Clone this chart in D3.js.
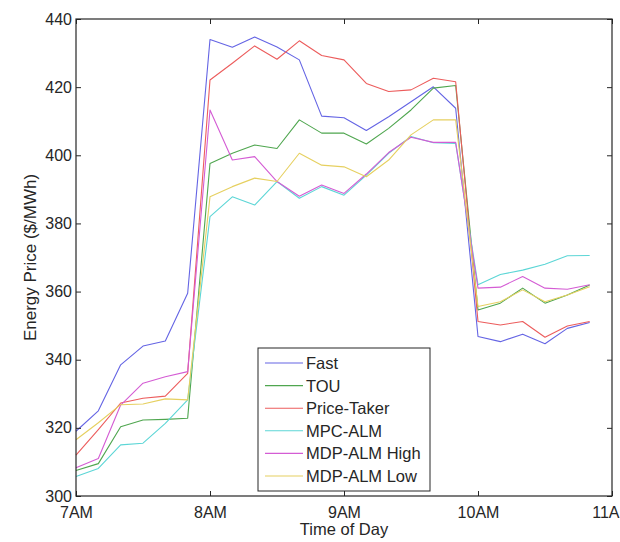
<!DOCTYPE html>
<html>
<head>
<meta charset="utf-8">
<script src="https://cdnjs.cloudflare.com/ajax/libs/d3/7.8.5/d3.min.js"></script>
<style>
  body { margin: 0; background: #fff; }
  svg { display: block; font-family: "Liberation Sans", Arial, sans-serif; }
</style>
</head>
<body>
<svg id="chart" width="620" height="542"></svg>
<script>
// sample times in hours, every 10 minutes from 7:00 to 10:50
const times = d3.range(24).map(i => 7 + i / 6);

const fast = [319, 325, 338.5, 344, 345.5, 359.5, 434, 431.7, 434.7, 431.8, 428, 411.5,
  411, 407.3, 411.3, 415.7, 420.1, 413.8, 346.8, 345.3, 347.5, 344.7, 349.2, 350.9];
const tou = [307.5, 309.5, 320.3, 322.3, 322.5, 322.8, 397.6, 400.6, 403, 402, 410.4, 406.5,
  406.5, 403.3, 407.9, 413.3, 419.7, 420.5, 354.6, 356.6, 361, 356.6, 359, 361.9];
const priceTaker = [312, 319.5, 327.3, 328.7, 329.3, 336, 422.1, 427, 432.1, 428.2, 433.6, 429.3,
  428, 421.1, 418.7, 419.2, 422.6, 421.6, 351.2, 350.2, 351.2, 346.6, 349.9, 351.2];
const mpcAlm = [305.7, 308.1, 315, 315.5, 321.3, 328.2, 382, 387.8, 385.4, 392.3, 387.4, 390.8,
  388.3, 394.2, 400.6, 405.5, 403.7, 403.5, 362, 365, 366.3, 368, 370.5, 370.6];
const mdpHigh = [308.3, 311, 326.7, 333.1, 335, 336.5, 413.3, 398.6, 399.6, 392.3, 388, 391.3,
  388.8, 394.5, 400.8, 405.3, 403.8, 403.8, 361, 361.3, 364.4, 361, 360.7, 362];
const mdpLow = [316.5, 321.5, 326.8, 327, 328.5, 328.2, 387.8, 390.8, 393.3, 392.3, 400.6, 397.1,
  396.6, 393.7, 398.6, 406, 410.4, 410.4, 355.6, 357, 360.5, 357, 359, 361.4];

const seriesNames = ['Fast', 'TOU', 'Price-Taker', 'MPC-ALM', 'MDP-ALM High', 'MDP-ALM Low'];
const seriesColors = ['#6464e4', '#4fa64f', '#ec5c5c', '#5cd6d6', '#d45cd4', '#e6d060'];
const xTickValues = [7, 8, 9, 10, 11];
const yTickValues = [300, 320, 340, 360, 380, 400, 420, 440];

const allSeries = [fast, tou, priceTaker, mpcAlm, mdpHigh, mdpLow];

const svg = d3.select('#chart');
const box = {left: 76, right: 612, top: 19, bottom: 496};

const x = d3.scaleLinear().domain([7, 11]).range([box.left, box.right]);
const y = d3.scaleLinear().domain([300, 440]).range([box.bottom, box.top]);

const ink = '#262626';

// the lines first, axes box goes over them
const line = d3.line()
  .x((d, i) => x(times[i]))
  .y(d => y(d));

svg.append('g').selectAll('path')
  .data(allSeries)
  .join('path')
  .attr('d', line)
  .attr('fill', 'none')
  .attr('stroke', (d, i) => seriesColors[i])
  .attr('stroke-width', 1.1)
  .attr('stroke-linejoin', 'round');

// matlab style ticks pointing inward, on all four sides
const styleAxis = g => {
  g.select('.domain').remove();
  g.selectAll('line').attr('stroke', ink);
  g.selectAll('text').attr('fill', ink).attr('font-size', 16);
};

svg.append('g')
  .attr('transform', `translate(0,${box.bottom})`)
  .call(d3.axisBottom(x).tickValues(xTickValues).tickFormat(h => h + 'AM')
    .tickSizeInner(-5).tickSizeOuter(0).tickPadding(11))
  .call(styleAxis);

svg.append('g')
  .attr('transform', `translate(${box.left},0)`)
  .call(d3.axisLeft(y).tickValues(yTickValues)
    .tickSizeInner(-5).tickSizeOuter(0).tickPadding(4))
  .call(styleAxis);

svg.append('g')
  .attr('transform', `translate(0,${box.top})`)
  .call(d3.axisTop(x).tickValues(xTickValues).tickFormat('')
    .tickSizeInner(-5).tickSizeOuter(0))
  .call(styleAxis);

svg.append('g')
  .attr('transform', `translate(${box.right},0)`)
  .call(d3.axisRight(y).tickValues(yTickValues).tickFormat('')
    .tickSizeInner(-5).tickSizeOuter(0))
  .call(styleAxis);

svg.append('rect')
  .attr('x', box.left)
  .attr('y', box.top)
  .attr('width', box.right - box.left)
  .attr('height', box.bottom - box.top)
  .attr('fill', 'none')
  .attr('stroke', ink)
  .attr('stroke-width', 1.2);

// axis titles
svg.append('text')
  .attr('x', (box.left + box.right) / 2)
  .attr('y', 535)
  .attr('text-anchor', 'middle')
  .attr('font-size', 16.5)
  .attr('fill', ink)
  .text('Time of Day');

svg.append('text')
  .attr('transform', `translate(36,${(box.top + box.bottom) / 2}) rotate(-90)`)
  .attr('text-anchor', 'middle')
  .attr('font-size', 17)
  .attr('fill', ink)
  .text('Energy Price ($/MWh)');

// legend box
const legend = svg.append('g').attr('transform', 'translate(258,348)');
legend.append('rect')
  .attr('width', 172)
  .attr('height', 143)
  .attr('fill', '#fff')
  .attr('stroke', ink)
  .attr('stroke-width', 1);

const rows = legend.selectAll('g.row')
  .data(seriesNames)
  .join('g')
  .attr('class', 'row')
  .attr('transform', (d, i) => `translate(0,${15 + i * 22.6})`);

rows.append('line')
  .attr('x1', 7)
  .attr('x2', 45)
  .attr('stroke', (d, i) => seriesColors[i])
  .attr('stroke-width', 1.1);

rows.append('text')
  .attr('x', 48)
  .attr('dy', '0.36em')
  .attr('font-size', 16.5)
  .attr('fill', ink)
  .text(d => d);
</script>
</body>
</html>
